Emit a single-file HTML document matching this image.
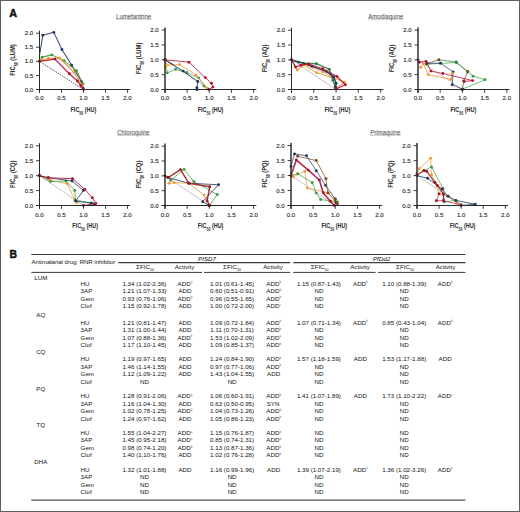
<!DOCTYPE html><html><head><meta charset="utf-8"><style>
html,body{margin:0;padding:0;background:#fff;}
body{width:520px;height:512px;overflow:hidden;position:relative;}
svg{position:absolute;left:0;top:0;}
text{font-family:"Liberation Sans",sans-serif;}
</style></head><body>
<svg width="520" height="512" viewBox="0 0 520 512">
<rect x="0" y="0" width="520" height="512" fill="#fff"/>
<rect x="0.5" y="0.5" width="519" height="511" fill="none" stroke="#5e5e5e" stroke-width="1"/>
<text x="9.2" y="16.9" font-size="10.8" font-weight="bold" fill="#111" stroke="#111" stroke-width="0.45">A</text>
<text x="9.6" y="258.2" font-size="10.4" font-weight="bold" fill="#111" stroke="#111" stroke-width="0.45">B</text>
<g transform="translate(133.60,18.50) scale(0.94,1)"><text x="0" y="0" font-size="6.4" fill="#444" text-anchor="middle">Lumefantrine</text></g>
<line x1="116.04" y1="19.20" x2="151.16" y2="19.20" stroke="#999" stroke-width="0.55"/>
<g transform="translate(385.80,18.50) scale(0.94,1)"><text x="0" y="0" font-size="6.4" fill="#444" text-anchor="middle">Amodiaquine</text></g>
<line x1="368.24" y1="19.20" x2="403.36" y2="19.20" stroke="#999" stroke-width="0.55"/>
<g transform="translate(133.40,134.60) scale(0.94,1)"><text x="0" y="0" font-size="6.4" fill="#444" text-anchor="middle">Chloroquine</text></g>
<line x1="117.18" y1="135.30" x2="149.62" y2="135.30" stroke="#999" stroke-width="0.55"/>
<g transform="translate(385.40,134.60) scale(0.94,1)"><text x="0" y="0" font-size="6.4" fill="#444" text-anchor="middle">Primaquine</text></g>
<line x1="370.19" y1="135.30" x2="400.61" y2="135.30" stroke="#999" stroke-width="0.55"/>
<line x1="39.50" y1="61.35" x2="83.50" y2="89.50" stroke="#333" stroke-width="0.9" stroke-dasharray="1.2,1"/>
<polyline points="39.50,55.72 42.80,35.17 53.80,32.36 61.94,49.53 71.62,65.29 81.30,81.34 83.06,88.09" fill="none" stroke="#223660" stroke-width="1.04" stroke-linejoin="round" stroke-opacity="0.9"/>
<circle cx="42.80" cy="35.17" r="1.45" fill="#223660"/>
<circle cx="53.80" cy="32.36" r="1.45" fill="#223660"/>
<circle cx="61.94" cy="49.53" r="1.45" fill="#223660"/>
<circle cx="71.62" cy="65.29" r="1.45" fill="#223660"/>
<circle cx="81.30" cy="81.34" r="1.45" fill="#223660"/>
<circle cx="83.06" cy="88.09" r="1.45" fill="#223660"/>
<polyline points="39.50,61.35 42.14,57.13 51.82,54.88 64.14,60.79 76.46,70.64 83.06,83.87" fill="none" stroke="#3c9a44" stroke-width="1.04" stroke-linejoin="round" stroke-opacity="0.9"/>
<circle cx="39.50" cy="61.35" r="1.45" fill="#3c9a44"/>
<circle cx="42.14" cy="57.13" r="1.45" fill="#3c9a44"/>
<circle cx="51.82" cy="54.88" r="1.45" fill="#3c9a44"/>
<circle cx="64.14" cy="60.79" r="1.45" fill="#3c9a44"/>
<circle cx="76.46" cy="70.64" r="1.45" fill="#3c9a44"/>
<circle cx="83.06" cy="83.87" r="1.45" fill="#3c9a44"/>
<polyline points="39.50,61.35 42.14,59.94 48.30,58.53 59.30,57.97 73.82,72.05 82.18,85.56" fill="none" stroke="#f09a36" stroke-width="1.28" stroke-linejoin="round" stroke-opacity="0.9"/>
<circle cx="39.50" cy="61.35" r="1.45" fill="#f09a36"/>
<circle cx="42.14" cy="59.94" r="1.45" fill="#f09a36"/>
<circle cx="48.30" cy="58.53" r="1.45" fill="#f09a36"/>
<circle cx="59.30" cy="57.97" r="1.45" fill="#f09a36"/>
<circle cx="73.82" cy="72.05" r="1.45" fill="#f09a36"/>
<circle cx="82.18" cy="85.56" r="1.45" fill="#f09a36"/>
<polyline points="39.50,61.35 54.90,59.10 69.42,73.74 77.34,81.06 80.86,85.56 83.50,89.50" fill="none" stroke="#b01235" stroke-width="1.28" stroke-linejoin="round" stroke-opacity="0.9"/>
<circle cx="39.50" cy="61.35" r="1.45" fill="#b01235"/>
<circle cx="54.90" cy="59.10" r="1.45" fill="#b01235"/>
<circle cx="69.42" cy="73.74" r="1.45" fill="#b01235"/>
<circle cx="77.34" cy="81.06" r="1.45" fill="#b01235"/>
<circle cx="80.86" cy="85.56" r="1.45" fill="#b01235"/>
<circle cx="83.50" cy="89.50" r="1.45" fill="#b01235"/>
<line x1="39.5" y1="30.60" x2="39.5" y2="92.80" stroke="#2a2a2a" stroke-width="1.0"/>
<line x1="36.10" y1="89.5" x2="130.20" y2="89.5" stroke="#2a2a2a" stroke-width="1"/>
<line x1="36.10" y1="89.50" x2="39.5" y2="89.50" stroke="#2a2a2a" stroke-width="0.9"/>
<line x1="39.50" y1="89.5" x2="39.50" y2="92.80" stroke="#2a2a2a" stroke-width="0.9"/>
<text x="33.20" y="91.60" font-size="6.05" fill="#2e2e2e" stroke="#2e2e2e" stroke-width="0.15" text-anchor="end">0.0</text>
<text x="39.50" y="100.40" font-size="6.05" fill="#2e2e2e" stroke="#2e2e2e" stroke-width="0.15" text-anchor="middle">0.0</text>
<line x1="36.10" y1="75.42" x2="39.5" y2="75.42" stroke="#2a2a2a" stroke-width="0.9"/>
<line x1="61.50" y1="89.5" x2="61.50" y2="92.80" stroke="#2a2a2a" stroke-width="0.9"/>
<text x="33.20" y="77.52" font-size="6.05" fill="#2e2e2e" stroke="#2e2e2e" stroke-width="0.15" text-anchor="end">0.5</text>
<text x="61.50" y="100.40" font-size="6.05" fill="#2e2e2e" stroke="#2e2e2e" stroke-width="0.15" text-anchor="middle">0.5</text>
<line x1="36.10" y1="61.35" x2="39.5" y2="61.35" stroke="#2a2a2a" stroke-width="0.9"/>
<line x1="83.50" y1="89.5" x2="83.50" y2="92.80" stroke="#2a2a2a" stroke-width="0.9"/>
<text x="33.20" y="63.45" font-size="6.05" fill="#2e2e2e" stroke="#2e2e2e" stroke-width="0.15" text-anchor="end">1.0</text>
<text x="83.50" y="100.40" font-size="6.05" fill="#2e2e2e" stroke="#2e2e2e" stroke-width="0.15" text-anchor="middle">1.0</text>
<line x1="36.10" y1="47.28" x2="39.5" y2="47.28" stroke="#2a2a2a" stroke-width="0.9"/>
<line x1="105.50" y1="89.5" x2="105.50" y2="92.80" stroke="#2a2a2a" stroke-width="0.9"/>
<text x="33.20" y="49.38" font-size="6.05" fill="#2e2e2e" stroke="#2e2e2e" stroke-width="0.15" text-anchor="end">1.5</text>
<text x="105.50" y="100.40" font-size="6.05" fill="#2e2e2e" stroke="#2e2e2e" stroke-width="0.15" text-anchor="middle">1.5</text>
<line x1="36.10" y1="33.20" x2="39.5" y2="33.20" stroke="#2a2a2a" stroke-width="0.9"/>
<line x1="127.50" y1="89.5" x2="127.50" y2="92.80" stroke="#2a2a2a" stroke-width="0.9"/>
<text x="33.20" y="35.30" font-size="6.05" fill="#2e2e2e" stroke="#2e2e2e" stroke-width="0.15" text-anchor="end">2.0</text>
<text x="127.50" y="100.40" font-size="6.05" fill="#2e2e2e" stroke="#2e2e2e" stroke-width="0.15" text-anchor="middle">2.0</text>
<g transform="translate(83.40,111.90) scale(0.72,1)"><text x="0" y="0" font-size="7.6" font-weight="bold" fill="#2a2a2a" text-anchor="middle">FIC<tspan font-size="4.8" dy="3.0">50</tspan><tspan dy="-3.0" dx="2.2">(HU)</tspan></text></g>
<g transform="translate(15.10,59.95) rotate(-90) scale(0.73,1)"><text x="0" y="0" font-size="8.0" font-weight="bold" fill="#2a2a2a" text-anchor="middle">FIC<tspan font-size="4.9" dy="3.1">50</tspan><tspan dy="-3.1" dx="2.2">(LUM)</tspan></text></g>
<line x1="165.00" y1="59.80" x2="209.30" y2="89.50" stroke="#a89a9a" stroke-width="0.6"/>
<polyline points="165.00,59.80 173.86,65.15" fill="none" stroke="#1a1a1a" stroke-width="0.96" stroke-linejoin="round" stroke-opacity="0.9"/>
<polyline points="165.00,59.80 167.22,72.87 175.63,69.30 186.71,72.57 198.67,77.92 203.98,85.94 207.08,88.91" fill="none" stroke="#3c9a44" stroke-width="0.80" stroke-linejoin="round" stroke-opacity="0.9"/>
<circle cx="165.00" cy="59.80" r="1.45" fill="#3c9a44"/>
<circle cx="167.22" cy="72.87" r="1.45" fill="#3c9a44"/>
<circle cx="175.63" cy="69.30" r="1.45" fill="#3c9a44"/>
<circle cx="186.71" cy="72.57" r="1.45" fill="#3c9a44"/>
<circle cx="198.67" cy="77.92" r="1.45" fill="#3c9a44"/>
<circle cx="203.98" cy="85.94" r="1.45" fill="#3c9a44"/>
<circle cx="207.08" cy="88.91" r="1.45" fill="#3c9a44"/>
<polyline points="165.00,59.80 167.22,65.15 179.62,64.55 196.01,74.95 207.53,88.31" fill="none" stroke="#f09a36" stroke-width="0.88" stroke-linejoin="round" stroke-opacity="0.9"/>
<circle cx="165.00" cy="59.80" r="1.45" fill="#f09a36"/>
<circle cx="167.22" cy="65.15" r="1.45" fill="#f09a36"/>
<circle cx="179.62" cy="64.55" r="1.45" fill="#f09a36"/>
<circle cx="196.01" cy="74.95" r="1.45" fill="#f09a36"/>
<circle cx="207.53" cy="88.31" r="1.45" fill="#f09a36"/>
<polyline points="165.00,59.80 165.00,67.52 167.22,65.15" fill="none" stroke="#f2c43a" stroke-width="0.80" stroke-linejoin="round" stroke-opacity="0.9"/>
<circle cx="165.00" cy="59.80" r="1.45" fill="#f2c43a"/>
<circle cx="165.00" cy="67.52" r="1.45" fill="#f2c43a"/>
<circle cx="167.22" cy="65.15" r="1.45" fill="#f2c43a"/>
<polyline points="165.00,59.80 183.16,71.09 197.78,81.48 196.90,87.72 196.90,89.50" fill="none" stroke="#223660" stroke-width="0.96" stroke-linejoin="round" stroke-opacity="0.9"/>
<circle cx="165.00" cy="59.80" r="1.45" fill="#223660"/>
<circle cx="183.16" cy="71.09" r="1.45" fill="#223660"/>
<circle cx="197.78" cy="81.48" r="1.45" fill="#223660"/>
<circle cx="196.90" cy="87.72" r="1.45" fill="#223660"/>
<circle cx="196.90" cy="89.50" r="1.45" fill="#223660"/>
<polyline points="165.00,59.80 188.92,62.18 205.31,77.62 211.51,83.26 212.84,87.12 208.86,89.50" fill="none" stroke="#b01235" stroke-width="0.88" stroke-linejoin="round" stroke-opacity="0.9"/>
<circle cx="165.00" cy="59.80" r="1.45" fill="#b01235"/>
<circle cx="188.92" cy="62.18" r="1.45" fill="#b01235"/>
<circle cx="205.31" cy="77.62" r="1.45" fill="#b01235"/>
<circle cx="211.51" cy="83.26" r="1.45" fill="#b01235"/>
<circle cx="212.84" cy="87.12" r="1.45" fill="#b01235"/>
<circle cx="208.86" cy="89.50" r="1.45" fill="#b01235"/>
<line x1="165.0" y1="27.50" x2="165.0" y2="92.80" stroke="#2a2a2a" stroke-width="1.45"/>
<line x1="161.60" y1="89.5" x2="256.30" y2="89.5" stroke="#2a2a2a" stroke-width="1"/>
<line x1="161.60" y1="89.50" x2="165.0" y2="89.50" stroke="#2a2a2a" stroke-width="0.9"/>
<line x1="165.00" y1="89.5" x2="165.00" y2="92.80" stroke="#2a2a2a" stroke-width="0.9"/>
<text x="158.70" y="91.60" font-size="6.05" fill="#2e2e2e" stroke="#2e2e2e" stroke-width="0.15" text-anchor="end">0.0</text>
<text x="165.00" y="100.40" font-size="6.05" fill="#2e2e2e" stroke="#2e2e2e" stroke-width="0.15" text-anchor="middle">0.0</text>
<line x1="161.60" y1="74.65" x2="165.0" y2="74.65" stroke="#2a2a2a" stroke-width="0.9"/>
<line x1="187.15" y1="89.5" x2="187.15" y2="92.80" stroke="#2a2a2a" stroke-width="0.9"/>
<text x="158.70" y="76.75" font-size="6.05" fill="#2e2e2e" stroke="#2e2e2e" stroke-width="0.15" text-anchor="end">0.5</text>
<text x="187.15" y="100.40" font-size="6.05" fill="#2e2e2e" stroke="#2e2e2e" stroke-width="0.15" text-anchor="middle">0.5</text>
<line x1="161.60" y1="59.80" x2="165.0" y2="59.80" stroke="#2a2a2a" stroke-width="0.9"/>
<line x1="209.30" y1="89.5" x2="209.30" y2="92.80" stroke="#2a2a2a" stroke-width="0.9"/>
<text x="158.70" y="61.90" font-size="6.05" fill="#2e2e2e" stroke="#2e2e2e" stroke-width="0.15" text-anchor="end">1.0</text>
<text x="209.30" y="100.40" font-size="6.05" fill="#2e2e2e" stroke="#2e2e2e" stroke-width="0.15" text-anchor="middle">1.0</text>
<line x1="161.60" y1="44.95" x2="165.0" y2="44.95" stroke="#2a2a2a" stroke-width="0.9"/>
<line x1="231.45" y1="89.5" x2="231.45" y2="92.80" stroke="#2a2a2a" stroke-width="0.9"/>
<text x="158.70" y="47.05" font-size="6.05" fill="#2e2e2e" stroke="#2e2e2e" stroke-width="0.15" text-anchor="end">1.5</text>
<text x="231.45" y="100.40" font-size="6.05" fill="#2e2e2e" stroke="#2e2e2e" stroke-width="0.15" text-anchor="middle">1.5</text>
<line x1="161.60" y1="30.10" x2="165.0" y2="30.10" stroke="#2a2a2a" stroke-width="0.9"/>
<line x1="253.60" y1="89.5" x2="253.60" y2="92.80" stroke="#2a2a2a" stroke-width="0.9"/>
<text x="158.70" y="32.20" font-size="6.05" fill="#2e2e2e" stroke="#2e2e2e" stroke-width="0.15" text-anchor="end">2.0</text>
<text x="253.60" y="100.40" font-size="6.05" fill="#2e2e2e" stroke="#2e2e2e" stroke-width="0.15" text-anchor="middle">2.0</text>
<g transform="translate(210.55,111.90) scale(0.72,1)"><text x="0" y="0" font-size="7.6" font-weight="bold" fill="#2a2a2a" text-anchor="middle">FIC<tspan font-size="4.8" dy="3.0">50</tspan><tspan dy="-3.0" dx="2.2">(HU)</tspan></text></g>
<g transform="translate(140.60,58.40) rotate(-90) scale(0.73,1)"><text x="0" y="0" font-size="8.0" font-weight="bold" fill="#2a2a2a" text-anchor="middle">FIC<tspan font-size="4.9" dy="3.1">50</tspan><tspan dy="-3.1" dx="2.2">(LUM)</tspan></text></g>
<line x1="291.50" y1="59.85" x2="336.05" y2="89.50" stroke="#a89a9a" stroke-width="0.6"/>
<polyline points="291.50,59.85 297.29,69.93 303.97,64.89 316.45,72.60 333.38,77.94 344.51,82.09 336.05,88.61" fill="none" stroke="#f09a36" stroke-width="1.04" stroke-linejoin="round" stroke-opacity="0.9"/>
<circle cx="291.50" cy="59.85" r="1.45" fill="#f09a36"/>
<circle cx="297.29" cy="69.93" r="1.45" fill="#f09a36"/>
<circle cx="303.97" cy="64.89" r="1.45" fill="#f09a36"/>
<circle cx="316.45" cy="72.60" r="1.45" fill="#f09a36"/>
<circle cx="333.38" cy="77.94" r="1.45" fill="#f09a36"/>
<circle cx="344.51" cy="82.09" r="1.45" fill="#f09a36"/>
<circle cx="336.05" cy="88.61" r="1.45" fill="#f09a36"/>
<polyline points="303.97,64.89 322.69,71.71 333.38,77.94" fill="none" stroke="#f09a36" stroke-width="0.72" stroke-linejoin="round" stroke-opacity="0.9"/>
<circle cx="303.97" cy="64.89" r="1.45" fill="#f09a36"/>
<circle cx="322.69" cy="71.71" r="1.45" fill="#f09a36"/>
<circle cx="333.38" cy="77.94" r="1.45" fill="#f09a36"/>
<polyline points="291.50,59.85 298.63,62.22 303.53,63.11 316.45,63.70 329.37,69.34 332.93,80.31 335.16,86.53" fill="none" stroke="#2e7d3a" stroke-width="1.44" stroke-linejoin="round" stroke-opacity="0.9"/>
<circle cx="291.50" cy="59.85" r="1.45" fill="#2e7d3a"/>
<circle cx="298.63" cy="62.22" r="1.45" fill="#2e7d3a"/>
<circle cx="303.53" cy="63.11" r="1.45" fill="#2e7d3a"/>
<circle cx="316.45" cy="63.70" r="1.45" fill="#2e7d3a"/>
<circle cx="329.37" cy="69.34" r="1.45" fill="#2e7d3a"/>
<circle cx="332.93" cy="80.31" r="1.45" fill="#2e7d3a"/>
<circle cx="335.16" cy="86.53" r="1.45" fill="#2e7d3a"/>
<polyline points="291.50,59.85 308.43,64.59 311.99,66.37 326.25,71.41 333.82,77.05 336.05,83.27 335.60,87.72" fill="none" stroke="#223660" stroke-width="1.44" stroke-linejoin="round" stroke-opacity="0.9"/>
<circle cx="291.50" cy="59.85" r="1.45" fill="#223660"/>
<circle cx="308.43" cy="64.59" r="1.45" fill="#223660"/>
<circle cx="311.99" cy="66.37" r="1.45" fill="#223660"/>
<circle cx="326.25" cy="71.41" r="1.45" fill="#223660"/>
<circle cx="333.82" cy="77.05" r="1.45" fill="#223660"/>
<circle cx="336.05" cy="83.27" r="1.45" fill="#223660"/>
<circle cx="335.60" cy="87.72" r="1.45" fill="#223660"/>
<polyline points="291.50,59.85 295.51,66.97 300.86,65.19 308.43,64.00 322.69,68.75 336.94,76.45 345.41,84.76 336.05,88.91" fill="none" stroke="#b01235" stroke-width="1.20" stroke-linejoin="round" stroke-opacity="0.9"/>
<circle cx="291.50" cy="59.85" r="1.45" fill="#b01235"/>
<circle cx="295.51" cy="66.97" r="1.45" fill="#b01235"/>
<circle cx="300.86" cy="65.19" r="1.45" fill="#b01235"/>
<circle cx="308.43" cy="64.00" r="1.45" fill="#b01235"/>
<circle cx="322.69" cy="68.75" r="1.45" fill="#b01235"/>
<circle cx="336.94" cy="76.45" r="1.45" fill="#b01235"/>
<circle cx="345.41" cy="84.76" r="1.45" fill="#b01235"/>
<circle cx="336.05" cy="88.91" r="1.45" fill="#b01235"/>
<line x1="291.5" y1="27.60" x2="291.5" y2="92.80" stroke="#2a2a2a" stroke-width="1.0"/>
<line x1="288.10" y1="89.5" x2="383.30" y2="89.5" stroke="#2a2a2a" stroke-width="1"/>
<line x1="288.10" y1="89.50" x2="291.5" y2="89.50" stroke="#2a2a2a" stroke-width="0.9"/>
<line x1="291.50" y1="89.5" x2="291.50" y2="92.80" stroke="#2a2a2a" stroke-width="0.9"/>
<text x="285.20" y="91.60" font-size="6.05" fill="#2e2e2e" stroke="#2e2e2e" stroke-width="0.15" text-anchor="end">0.0</text>
<text x="291.50" y="100.40" font-size="6.05" fill="#2e2e2e" stroke="#2e2e2e" stroke-width="0.15" text-anchor="middle">0.0</text>
<line x1="288.10" y1="74.67" x2="291.5" y2="74.67" stroke="#2a2a2a" stroke-width="0.9"/>
<line x1="313.77" y1="89.5" x2="313.77" y2="92.80" stroke="#2a2a2a" stroke-width="0.9"/>
<text x="285.20" y="76.77" font-size="6.05" fill="#2e2e2e" stroke="#2e2e2e" stroke-width="0.15" text-anchor="end">0.5</text>
<text x="313.77" y="100.40" font-size="6.05" fill="#2e2e2e" stroke="#2e2e2e" stroke-width="0.15" text-anchor="middle">0.5</text>
<line x1="288.10" y1="59.85" x2="291.5" y2="59.85" stroke="#2a2a2a" stroke-width="0.9"/>
<line x1="336.05" y1="89.5" x2="336.05" y2="92.80" stroke="#2a2a2a" stroke-width="0.9"/>
<text x="285.20" y="61.95" font-size="6.05" fill="#2e2e2e" stroke="#2e2e2e" stroke-width="0.15" text-anchor="end">1.0</text>
<text x="336.05" y="100.40" font-size="6.05" fill="#2e2e2e" stroke="#2e2e2e" stroke-width="0.15" text-anchor="middle">1.0</text>
<line x1="288.10" y1="45.03" x2="291.5" y2="45.03" stroke="#2a2a2a" stroke-width="0.9"/>
<line x1="358.32" y1="89.5" x2="358.32" y2="92.80" stroke="#2a2a2a" stroke-width="0.9"/>
<text x="285.20" y="47.13" font-size="6.05" fill="#2e2e2e" stroke="#2e2e2e" stroke-width="0.15" text-anchor="end">1.5</text>
<text x="358.32" y="100.40" font-size="6.05" fill="#2e2e2e" stroke="#2e2e2e" stroke-width="0.15" text-anchor="middle">1.5</text>
<line x1="288.10" y1="30.20" x2="291.5" y2="30.20" stroke="#2a2a2a" stroke-width="0.9"/>
<line x1="380.60" y1="89.5" x2="380.60" y2="92.80" stroke="#2a2a2a" stroke-width="0.9"/>
<text x="285.20" y="32.30" font-size="6.05" fill="#2e2e2e" stroke="#2e2e2e" stroke-width="0.15" text-anchor="end">2.0</text>
<text x="380.60" y="100.40" font-size="6.05" fill="#2e2e2e" stroke="#2e2e2e" stroke-width="0.15" text-anchor="middle">2.0</text>
<g transform="translate(337.35,111.90) scale(0.72,1)"><text x="0" y="0" font-size="7.6" font-weight="bold" fill="#2a2a2a" text-anchor="middle">FIC<tspan font-size="4.8" dy="3.0">50</tspan><tspan dy="-3.0" dx="2.2">(HU)</tspan></text></g>
<g transform="translate(267.10,58.45) rotate(-90) scale(0.73,1)"><text x="0" y="0" font-size="8.0" font-weight="bold" fill="#2a2a2a" text-anchor="middle">FIC<tspan font-size="4.9" dy="3.1">50</tspan><tspan dy="-3.1" dx="2.2">(AQ)</tspan></text></g>
<line x1="418.00" y1="59.85" x2="462.40" y2="89.50" stroke="#a89a9a" stroke-width="0.6"/>
<polyline points="426.88,64.30 440.20,63.41 456.18,62.52 467.73,71.71 473.06,76.16 485.04,79.72 462.40,89.20" fill="none" stroke="#3c9a44" stroke-width="0.80" stroke-linejoin="round" stroke-opacity="0.9"/>
<circle cx="426.88" cy="64.30" r="1.45" fill="#3c9a44"/>
<circle cx="440.20" cy="63.41" r="1.45" fill="#3c9a44"/>
<circle cx="456.18" cy="62.52" r="1.45" fill="#3c9a44"/>
<circle cx="467.73" cy="71.71" r="1.45" fill="#3c9a44"/>
<circle cx="473.06" cy="76.16" r="1.45" fill="#3c9a44"/>
<circle cx="485.04" cy="79.72" r="1.45" fill="#3c9a44"/>
<circle cx="462.40" cy="89.20" r="1.45" fill="#3c9a44"/>
<polyline points="438.87,59.85 456.18,61.93 467.73,71.71" fill="none" stroke="#2e7d3a" stroke-width="0.80" stroke-linejoin="round" stroke-opacity="0.9"/>
<circle cx="438.87" cy="59.85" r="1.45" fill="#2e7d3a"/>
<circle cx="456.18" cy="61.93" r="1.45" fill="#2e7d3a"/>
<circle cx="467.73" cy="71.71" r="1.45" fill="#2e7d3a"/>
<polyline points="426.88,63.41 438.87,59.85" fill="none" stroke="#7a4a22" stroke-width="0.80" stroke-linejoin="round" stroke-opacity="0.9"/>
<circle cx="426.88" cy="63.41" r="1.45" fill="#7a4a22"/>
<circle cx="438.87" cy="59.85" r="1.45" fill="#7a4a22"/>
<polyline points="467.73,71.71 463.73,80.90 462.40,89.50" fill="none" stroke="#7a4a22" stroke-width="0.80" stroke-linejoin="round" stroke-opacity="0.9"/>
<circle cx="467.73" cy="71.71" r="1.45" fill="#7a4a22"/>
<circle cx="463.73" cy="80.90" r="1.45" fill="#7a4a22"/>
<circle cx="462.40" cy="89.50" r="1.45" fill="#7a4a22"/>
<polyline points="426.88,63.41 440.64,63.11 453.08,72.01 452.19,84.76 462.40,89.20" fill="none" stroke="#223660" stroke-width="0.80" stroke-linejoin="round" stroke-opacity="0.9"/>
<circle cx="426.88" cy="63.41" r="1.45" fill="#223660"/>
<circle cx="440.64" cy="63.11" r="1.45" fill="#223660"/>
<circle cx="453.08" cy="72.01" r="1.45" fill="#223660"/>
<circle cx="452.19" cy="84.76" r="1.45" fill="#223660"/>
<circle cx="462.40" cy="89.20" r="1.45" fill="#223660"/>
<polyline points="420.66,67.26 423.33,63.70 428.21,74.67 450.86,79.42 452.19,73.19" fill="none" stroke="#f09a36" stroke-width="0.96" stroke-linejoin="round" stroke-opacity="0.9"/>
<circle cx="420.66" cy="67.26" r="1.45" fill="#f09a36"/>
<circle cx="423.33" cy="63.70" r="1.45" fill="#f09a36"/>
<circle cx="428.21" cy="74.67" r="1.45" fill="#f09a36"/>
<circle cx="450.86" cy="79.42" r="1.45" fill="#f09a36"/>
<circle cx="452.19" cy="73.19" r="1.45" fill="#f09a36"/>
<polyline points="418.00,59.85 419.33,62.22 425.99,61.33 430.88,71.12 442.86,73.49 472.61,80.61 464.18,81.49" fill="none" stroke="#b01235" stroke-width="0.88" stroke-linejoin="round" stroke-opacity="0.9"/>
<circle cx="418.00" cy="59.85" r="1.45" fill="#b01235"/>
<circle cx="419.33" cy="62.22" r="1.45" fill="#b01235"/>
<circle cx="425.99" cy="61.33" r="1.45" fill="#b01235"/>
<circle cx="430.88" cy="71.12" r="1.45" fill="#b01235"/>
<circle cx="442.86" cy="73.49" r="1.45" fill="#b01235"/>
<circle cx="472.61" cy="80.61" r="1.45" fill="#b01235"/>
<circle cx="464.18" cy="81.49" r="1.45" fill="#b01235"/>
<line x1="418.0" y1="27.60" x2="418.0" y2="92.80" stroke="#2a2a2a" stroke-width="1.45"/>
<line x1="414.60" y1="89.5" x2="509.50" y2="89.5" stroke="#2a2a2a" stroke-width="1"/>
<line x1="414.60" y1="89.50" x2="418.0" y2="89.50" stroke="#2a2a2a" stroke-width="0.9"/>
<line x1="418.00" y1="89.5" x2="418.00" y2="92.80" stroke="#2a2a2a" stroke-width="0.9"/>
<text x="411.70" y="91.60" font-size="6.05" fill="#2e2e2e" stroke="#2e2e2e" stroke-width="0.15" text-anchor="end">0.0</text>
<text x="418.00" y="100.40" font-size="6.05" fill="#2e2e2e" stroke="#2e2e2e" stroke-width="0.15" text-anchor="middle">0.0</text>
<line x1="414.60" y1="74.67" x2="418.0" y2="74.67" stroke="#2a2a2a" stroke-width="0.9"/>
<line x1="440.20" y1="89.5" x2="440.20" y2="92.80" stroke="#2a2a2a" stroke-width="0.9"/>
<text x="411.70" y="76.77" font-size="6.05" fill="#2e2e2e" stroke="#2e2e2e" stroke-width="0.15" text-anchor="end">0.5</text>
<text x="440.20" y="100.40" font-size="6.05" fill="#2e2e2e" stroke="#2e2e2e" stroke-width="0.15" text-anchor="middle">0.5</text>
<line x1="414.60" y1="59.85" x2="418.0" y2="59.85" stroke="#2a2a2a" stroke-width="0.9"/>
<line x1="462.40" y1="89.5" x2="462.40" y2="92.80" stroke="#2a2a2a" stroke-width="0.9"/>
<text x="411.70" y="61.95" font-size="6.05" fill="#2e2e2e" stroke="#2e2e2e" stroke-width="0.15" text-anchor="end">1.0</text>
<text x="462.40" y="100.40" font-size="6.05" fill="#2e2e2e" stroke="#2e2e2e" stroke-width="0.15" text-anchor="middle">1.0</text>
<line x1="414.60" y1="45.03" x2="418.0" y2="45.03" stroke="#2a2a2a" stroke-width="0.9"/>
<line x1="484.60" y1="89.5" x2="484.60" y2="92.80" stroke="#2a2a2a" stroke-width="0.9"/>
<text x="411.70" y="47.13" font-size="6.05" fill="#2e2e2e" stroke="#2e2e2e" stroke-width="0.15" text-anchor="end">1.5</text>
<text x="484.60" y="100.40" font-size="6.05" fill="#2e2e2e" stroke="#2e2e2e" stroke-width="0.15" text-anchor="middle">1.5</text>
<line x1="414.60" y1="30.20" x2="418.0" y2="30.20" stroke="#2a2a2a" stroke-width="0.9"/>
<line x1="506.80" y1="89.5" x2="506.80" y2="92.80" stroke="#2a2a2a" stroke-width="0.9"/>
<text x="411.70" y="32.30" font-size="6.05" fill="#2e2e2e" stroke="#2e2e2e" stroke-width="0.15" text-anchor="end">2.0</text>
<text x="506.80" y="100.40" font-size="6.05" fill="#2e2e2e" stroke="#2e2e2e" stroke-width="0.15" text-anchor="middle">2.0</text>
<g transform="translate(463.35,111.90) scale(0.72,1)"><text x="0" y="0" font-size="7.6" font-weight="bold" fill="#2a2a2a" text-anchor="middle">FIC<tspan font-size="4.8" dy="3.0">50</tspan><tspan dy="-3.0" dx="2.2">(HU)</tspan></text></g>
<g transform="translate(393.60,58.45) rotate(-90) scale(0.73,1)"><text x="0" y="0" font-size="8.0" font-weight="bold" fill="#2a2a2a" text-anchor="middle">FIC<tspan font-size="4.9" dy="3.1">50</tspan><tspan dy="-3.1" dx="2.2">(AQ)</tspan></text></g>
<line x1="39.50" y1="175.65" x2="83.50" y2="205.50" stroke="#a89a9a" stroke-width="0.6"/>
<polyline points="39.50,175.65 50.50,180.13 67.22,183.71 74.70,199.53 76.90,202.51" fill="none" stroke="#f09a36" stroke-width="0.88" stroke-linejoin="round" stroke-opacity="0.9"/>
<circle cx="39.50" cy="175.65" r="1.45" fill="#f09a36"/>
<circle cx="50.50" cy="180.13" r="1.45" fill="#f09a36"/>
<circle cx="67.22" cy="183.71" r="1.45" fill="#f09a36"/>
<circle cx="74.70" cy="199.53" r="1.45" fill="#f09a36"/>
<circle cx="76.90" cy="202.51" r="1.45" fill="#f09a36"/>
<polyline points="39.50,175.65 50.50,181.62 65.90,181.02 74.70,190.57 75.58,200.13 92.30,203.11" fill="none" stroke="#3c9a44" stroke-width="0.80" stroke-linejoin="round" stroke-opacity="0.9"/>
<circle cx="39.50" cy="175.65" r="1.45" fill="#3c9a44"/>
<circle cx="50.50" cy="181.62" r="1.45" fill="#3c9a44"/>
<circle cx="65.90" cy="181.02" r="1.45" fill="#3c9a44"/>
<circle cx="74.70" cy="190.57" r="1.45" fill="#3c9a44"/>
<circle cx="75.58" cy="200.13" r="1.45" fill="#3c9a44"/>
<circle cx="92.30" cy="203.11" r="1.45" fill="#3c9a44"/>
<polyline points="39.50,175.65 48.30,177.74 72.06,181.02 83.50,190.57 75.58,201.02 90.98,203.11 94.50,204.31" fill="none" stroke="#223660" stroke-width="0.88" stroke-linejoin="round" stroke-opacity="0.9"/>
<circle cx="39.50" cy="175.65" r="1.45" fill="#223660"/>
<circle cx="48.30" cy="177.74" r="1.45" fill="#223660"/>
<circle cx="72.06" cy="181.02" r="1.45" fill="#223660"/>
<circle cx="83.50" cy="190.57" r="1.45" fill="#223660"/>
<circle cx="75.58" cy="201.02" r="1.45" fill="#223660"/>
<circle cx="90.98" cy="203.11" r="1.45" fill="#223660"/>
<circle cx="94.50" cy="204.31" r="1.45" fill="#223660"/>
<polyline points="39.50,175.65 48.30,177.74 72.50,178.63 84.82,189.38 92.30,197.74 95.82,203.41 83.50,205.50" fill="none" stroke="#b01235" stroke-width="0.96" stroke-linejoin="round" stroke-opacity="0.9"/>
<circle cx="39.50" cy="175.65" r="1.45" fill="#b01235"/>
<circle cx="48.30" cy="177.74" r="1.45" fill="#b01235"/>
<circle cx="72.50" cy="178.63" r="1.45" fill="#b01235"/>
<circle cx="84.82" cy="189.38" r="1.45" fill="#b01235"/>
<circle cx="92.30" cy="197.74" r="1.45" fill="#b01235"/>
<circle cx="95.82" cy="203.41" r="1.45" fill="#b01235"/>
<circle cx="83.50" cy="205.50" r="1.45" fill="#b01235"/>
<line x1="39.5" y1="143.20" x2="39.5" y2="208.80" stroke="#2a2a2a" stroke-width="1.0"/>
<line x1="36.10" y1="205.5" x2="130.20" y2="205.5" stroke="#2a2a2a" stroke-width="1"/>
<line x1="36.10" y1="205.50" x2="39.5" y2="205.50" stroke="#2a2a2a" stroke-width="0.9"/>
<line x1="39.50" y1="205.5" x2="39.50" y2="208.80" stroke="#2a2a2a" stroke-width="0.9"/>
<text x="33.20" y="207.60" font-size="6.05" fill="#2e2e2e" stroke="#2e2e2e" stroke-width="0.15" text-anchor="end">0.0</text>
<text x="39.50" y="216.90" font-size="6.05" fill="#2e2e2e" stroke="#2e2e2e" stroke-width="0.15" text-anchor="middle">0.0</text>
<line x1="36.10" y1="190.57" x2="39.5" y2="190.57" stroke="#2a2a2a" stroke-width="0.9"/>
<line x1="61.50" y1="205.5" x2="61.50" y2="208.80" stroke="#2a2a2a" stroke-width="0.9"/>
<text x="33.20" y="192.67" font-size="6.05" fill="#2e2e2e" stroke="#2e2e2e" stroke-width="0.15" text-anchor="end">0.5</text>
<text x="61.50" y="216.90" font-size="6.05" fill="#2e2e2e" stroke="#2e2e2e" stroke-width="0.15" text-anchor="middle">0.5</text>
<line x1="36.10" y1="175.65" x2="39.5" y2="175.65" stroke="#2a2a2a" stroke-width="0.9"/>
<line x1="83.50" y1="205.5" x2="83.50" y2="208.80" stroke="#2a2a2a" stroke-width="0.9"/>
<text x="33.20" y="177.75" font-size="6.05" fill="#2e2e2e" stroke="#2e2e2e" stroke-width="0.15" text-anchor="end">1.0</text>
<text x="83.50" y="216.90" font-size="6.05" fill="#2e2e2e" stroke="#2e2e2e" stroke-width="0.15" text-anchor="middle">1.0</text>
<line x1="36.10" y1="160.72" x2="39.5" y2="160.72" stroke="#2a2a2a" stroke-width="0.9"/>
<line x1="105.50" y1="205.5" x2="105.50" y2="208.80" stroke="#2a2a2a" stroke-width="0.9"/>
<text x="33.20" y="162.82" font-size="6.05" fill="#2e2e2e" stroke="#2e2e2e" stroke-width="0.15" text-anchor="end">1.5</text>
<text x="105.50" y="216.90" font-size="6.05" fill="#2e2e2e" stroke="#2e2e2e" stroke-width="0.15" text-anchor="middle">1.5</text>
<line x1="36.10" y1="145.80" x2="39.5" y2="145.80" stroke="#2a2a2a" stroke-width="0.9"/>
<line x1="127.50" y1="205.5" x2="127.50" y2="208.80" stroke="#2a2a2a" stroke-width="0.9"/>
<text x="33.20" y="147.90" font-size="6.05" fill="#2e2e2e" stroke="#2e2e2e" stroke-width="0.15" text-anchor="end">2.0</text>
<text x="127.50" y="216.90" font-size="6.05" fill="#2e2e2e" stroke="#2e2e2e" stroke-width="0.15" text-anchor="middle">2.0</text>
<g transform="translate(85.15,228.30) scale(0.72,1)"><text x="0" y="0" font-size="7.6" font-weight="bold" fill="#2a2a2a" text-anchor="middle">FIC<tspan font-size="4.8" dy="3.0">50</tspan><tspan dy="-3.0" dx="2.2">(HU)</tspan></text></g>
<g transform="translate(15.10,174.25) rotate(-90) scale(0.73,1)"><text x="0" y="0" font-size="8.0" font-weight="bold" fill="#2a2a2a" text-anchor="middle">FIC<tspan font-size="4.9" dy="3.1">50</tspan><tspan dy="-3.1" dx="2.2">(CQ)</tspan></text></g>
<line x1="165.00" y1="175.85" x2="209.30" y2="205.50" stroke="#a89a9a" stroke-width="0.6"/>
<polyline points="168.99,183.26 174.30,182.67 188.92,183.26 203.98,195.12 209.30,205.50" fill="none" stroke="#f09a36" stroke-width="0.88" stroke-linejoin="round" stroke-opacity="0.9"/>
<circle cx="168.99" cy="183.26" r="1.45" fill="#f09a36"/>
<circle cx="174.30" cy="182.67" r="1.45" fill="#f09a36"/>
<circle cx="188.92" cy="183.26" r="1.45" fill="#f09a36"/>
<circle cx="203.98" cy="195.12" r="1.45" fill="#f09a36"/>
<circle cx="209.30" cy="205.50" r="1.45" fill="#f09a36"/>
<polyline points="168.10,177.63 170.76,180.30 184.05,169.33 193.79,181.48 217.27,194.53 209.30,205.50" fill="none" stroke="#3c9a44" stroke-width="0.80" stroke-linejoin="round" stroke-opacity="0.9"/>
<circle cx="168.10" cy="177.63" r="1.45" fill="#3c9a44"/>
<circle cx="170.76" cy="180.30" r="1.45" fill="#3c9a44"/>
<circle cx="184.05" cy="169.33" r="1.45" fill="#3c9a44"/>
<circle cx="193.79" cy="181.48" r="1.45" fill="#3c9a44"/>
<circle cx="217.27" cy="194.53" r="1.45" fill="#3c9a44"/>
<circle cx="209.30" cy="205.50" r="1.45" fill="#3c9a44"/>
<polyline points="168.10,177.63 188.92,183.26 218.60,184.75 202.66,201.65 209.30,205.50" fill="none" stroke="#223660" stroke-width="0.88" stroke-linejoin="round" stroke-opacity="0.9"/>
<circle cx="168.10" cy="177.63" r="1.45" fill="#223660"/>
<circle cx="188.92" cy="183.26" r="1.45" fill="#223660"/>
<circle cx="218.60" cy="184.75" r="1.45" fill="#223660"/>
<circle cx="202.66" cy="201.65" r="1.45" fill="#223660"/>
<circle cx="209.30" cy="205.50" r="1.45" fill="#223660"/>
<polyline points="165.00,175.85 168.10,177.63 180.50,169.62 188.92,183.26 209.74,186.82 207.08,200.76 209.74,205.50" fill="none" stroke="#9b1b1f" stroke-width="1.44" stroke-linejoin="round" stroke-opacity="0.9"/>
<circle cx="165.00" cy="175.85" r="1.45" fill="#9b1b1f"/>
<circle cx="168.10" cy="177.63" r="1.45" fill="#9b1b1f"/>
<circle cx="180.50" cy="169.62" r="1.45" fill="#9b1b1f"/>
<circle cx="188.92" cy="183.26" r="1.45" fill="#9b1b1f"/>
<circle cx="209.74" cy="186.82" r="1.45" fill="#9b1b1f"/>
<circle cx="207.08" cy="200.76" r="1.45" fill="#9b1b1f"/>
<circle cx="209.74" cy="205.50" r="1.45" fill="#9b1b1f"/>
<line x1="165.0" y1="143.60" x2="165.0" y2="208.80" stroke="#2a2a2a" stroke-width="1.45"/>
<line x1="161.60" y1="205.5" x2="256.30" y2="205.5" stroke="#2a2a2a" stroke-width="1"/>
<line x1="161.60" y1="205.50" x2="165.0" y2="205.50" stroke="#2a2a2a" stroke-width="0.9"/>
<line x1="165.00" y1="205.5" x2="165.00" y2="208.80" stroke="#2a2a2a" stroke-width="0.9"/>
<text x="158.70" y="207.60" font-size="6.05" fill="#2e2e2e" stroke="#2e2e2e" stroke-width="0.15" text-anchor="end">0.0</text>
<text x="165.00" y="216.90" font-size="6.05" fill="#2e2e2e" stroke="#2e2e2e" stroke-width="0.15" text-anchor="middle">0.0</text>
<line x1="161.60" y1="190.68" x2="165.0" y2="190.68" stroke="#2a2a2a" stroke-width="0.9"/>
<line x1="187.15" y1="205.5" x2="187.15" y2="208.80" stroke="#2a2a2a" stroke-width="0.9"/>
<text x="158.70" y="192.78" font-size="6.05" fill="#2e2e2e" stroke="#2e2e2e" stroke-width="0.15" text-anchor="end">0.5</text>
<text x="187.15" y="216.90" font-size="6.05" fill="#2e2e2e" stroke="#2e2e2e" stroke-width="0.15" text-anchor="middle">0.5</text>
<line x1="161.60" y1="175.85" x2="165.0" y2="175.85" stroke="#2a2a2a" stroke-width="0.9"/>
<line x1="209.30" y1="205.5" x2="209.30" y2="208.80" stroke="#2a2a2a" stroke-width="0.9"/>
<text x="158.70" y="177.95" font-size="6.05" fill="#2e2e2e" stroke="#2e2e2e" stroke-width="0.15" text-anchor="end">1.0</text>
<text x="209.30" y="216.90" font-size="6.05" fill="#2e2e2e" stroke="#2e2e2e" stroke-width="0.15" text-anchor="middle">1.0</text>
<line x1="161.60" y1="161.03" x2="165.0" y2="161.03" stroke="#2a2a2a" stroke-width="0.9"/>
<line x1="231.45" y1="205.5" x2="231.45" y2="208.80" stroke="#2a2a2a" stroke-width="0.9"/>
<text x="158.70" y="163.12" font-size="6.05" fill="#2e2e2e" stroke="#2e2e2e" stroke-width="0.15" text-anchor="end">1.5</text>
<text x="231.45" y="216.90" font-size="6.05" fill="#2e2e2e" stroke="#2e2e2e" stroke-width="0.15" text-anchor="middle">1.5</text>
<line x1="161.60" y1="146.20" x2="165.0" y2="146.20" stroke="#2a2a2a" stroke-width="0.9"/>
<line x1="253.60" y1="205.5" x2="253.60" y2="208.80" stroke="#2a2a2a" stroke-width="0.9"/>
<text x="158.70" y="148.30" font-size="6.05" fill="#2e2e2e" stroke="#2e2e2e" stroke-width="0.15" text-anchor="end">2.0</text>
<text x="253.60" y="216.90" font-size="6.05" fill="#2e2e2e" stroke="#2e2e2e" stroke-width="0.15" text-anchor="middle">2.0</text>
<g transform="translate(210.55,228.30) scale(0.72,1)"><text x="0" y="0" font-size="7.6" font-weight="bold" fill="#2a2a2a" text-anchor="middle">FIC<tspan font-size="4.8" dy="3.0">50</tspan><tspan dy="-3.0" dx="2.2">(HU)</tspan></text></g>
<g transform="translate(140.60,174.45) rotate(-90) scale(0.73,1)"><text x="0" y="0" font-size="8.0" font-weight="bold" fill="#2a2a2a" text-anchor="middle">FIC<tspan font-size="4.9" dy="3.1">50</tspan><tspan dy="-3.1" dx="2.2">(CQ)</tspan></text></g>
<line x1="291.00" y1="175.50" x2="335.25" y2="205.50" stroke="#a89a9a" stroke-width="0.6"/>
<polyline points="293.21,176.70 304.72,171.30 307.37,188.10 328.61,192.90 335.25,202.50" fill="none" stroke="#f09a36" stroke-width="0.80" stroke-linejoin="round" stroke-opacity="0.9"/>
<circle cx="293.21" cy="176.70" r="1.45" fill="#f09a36"/>
<circle cx="304.72" cy="171.30" r="1.45" fill="#f09a36"/>
<circle cx="307.37" cy="188.10" r="1.45" fill="#f09a36"/>
<circle cx="328.61" cy="192.90" r="1.45" fill="#f09a36"/>
<circle cx="335.25" cy="202.50" r="1.45" fill="#f09a36"/>
<polyline points="291.00,175.50 297.64,173.70 312.24,182.70 316.22,192.90 320.65,199.50 337.46,201.90" fill="none" stroke="#3c9a44" stroke-width="0.80" stroke-linejoin="round" stroke-opacity="0.9"/>
<circle cx="291.00" cy="175.50" r="1.45" fill="#3c9a44"/>
<circle cx="297.64" cy="173.70" r="1.45" fill="#3c9a44"/>
<circle cx="312.24" cy="182.70" r="1.45" fill="#3c9a44"/>
<circle cx="316.22" cy="192.90" r="1.45" fill="#3c9a44"/>
<circle cx="320.65" cy="199.50" r="1.45" fill="#3c9a44"/>
<circle cx="337.46" cy="201.90" r="1.45" fill="#3c9a44"/>
<polyline points="291.00,166.50 294.54,153.90 306.49,155.70 316.22,170.70 325.51,185.40 335.25,198.90 336.13,203.10" fill="none" stroke="#223660" stroke-width="0.80" stroke-linejoin="round" stroke-opacity="0.9"/>
<circle cx="291.00" cy="166.50" r="1.45" fill="#223660"/>
<circle cx="294.54" cy="153.90" r="1.45" fill="#223660"/>
<circle cx="306.49" cy="155.70" r="1.45" fill="#223660"/>
<circle cx="316.22" cy="170.70" r="1.45" fill="#223660"/>
<circle cx="325.51" cy="185.40" r="1.45" fill="#223660"/>
<circle cx="335.25" cy="198.90" r="1.45" fill="#223660"/>
<circle cx="336.13" cy="203.10" r="1.45" fill="#223660"/>
<polyline points="297.64,156.30 316.22,160.50 325.96,178.80 327.73,192.90 335.25,199.80 337.46,204.00" fill="none" stroke="#7a4a22" stroke-width="0.80" stroke-linejoin="round" stroke-opacity="0.9"/>
<circle cx="297.64" cy="156.30" r="1.45" fill="#7a4a22"/>
<circle cx="316.22" cy="160.50" r="1.45" fill="#7a4a22"/>
<circle cx="325.96" cy="178.80" r="1.45" fill="#7a4a22"/>
<circle cx="327.73" cy="192.90" r="1.45" fill="#7a4a22"/>
<circle cx="335.25" cy="199.80" r="1.45" fill="#7a4a22"/>
<circle cx="337.46" cy="204.00" r="1.45" fill="#7a4a22"/>
<polyline points="291.00,175.50 296.31,159.90 308.26,170.10 319.32,180.00 323.30,192.90 330.38,201.30 334.37,205.50" fill="none" stroke="#b01235" stroke-width="1.60" stroke-linejoin="round" stroke-opacity="0.9"/>
<circle cx="291.00" cy="175.50" r="1.45" fill="#b01235"/>
<circle cx="296.31" cy="159.90" r="1.45" fill="#b01235"/>
<circle cx="308.26" cy="170.10" r="1.45" fill="#b01235"/>
<circle cx="319.32" cy="180.00" r="1.45" fill="#b01235"/>
<circle cx="323.30" cy="192.90" r="1.45" fill="#b01235"/>
<circle cx="330.38" cy="201.30" r="1.45" fill="#b01235"/>
<circle cx="334.37" cy="205.50" r="1.45" fill="#b01235"/>
<line x1="291.0" y1="142.90" x2="291.0" y2="208.80" stroke="#2a2a2a" stroke-width="1.45"/>
<line x1="287.60" y1="205.5" x2="382.20" y2="205.5" stroke="#2a2a2a" stroke-width="1"/>
<line x1="287.60" y1="205.50" x2="291.0" y2="205.50" stroke="#2a2a2a" stroke-width="0.9"/>
<line x1="291.00" y1="205.5" x2="291.00" y2="208.80" stroke="#2a2a2a" stroke-width="0.9"/>
<text x="284.70" y="207.60" font-size="6.05" fill="#2e2e2e" stroke="#2e2e2e" stroke-width="0.15" text-anchor="end">0.0</text>
<text x="291.00" y="216.90" font-size="6.05" fill="#2e2e2e" stroke="#2e2e2e" stroke-width="0.15" text-anchor="middle">0.0</text>
<line x1="287.60" y1="190.50" x2="291.0" y2="190.50" stroke="#2a2a2a" stroke-width="0.9"/>
<line x1="313.12" y1="205.5" x2="313.12" y2="208.80" stroke="#2a2a2a" stroke-width="0.9"/>
<text x="284.70" y="192.60" font-size="6.05" fill="#2e2e2e" stroke="#2e2e2e" stroke-width="0.15" text-anchor="end">0.5</text>
<text x="313.12" y="216.90" font-size="6.05" fill="#2e2e2e" stroke="#2e2e2e" stroke-width="0.15" text-anchor="middle">0.5</text>
<line x1="287.60" y1="175.50" x2="291.0" y2="175.50" stroke="#2a2a2a" stroke-width="0.9"/>
<line x1="335.25" y1="205.5" x2="335.25" y2="208.80" stroke="#2a2a2a" stroke-width="0.9"/>
<text x="284.70" y="177.60" font-size="6.05" fill="#2e2e2e" stroke="#2e2e2e" stroke-width="0.15" text-anchor="end">1.0</text>
<text x="335.25" y="216.90" font-size="6.05" fill="#2e2e2e" stroke="#2e2e2e" stroke-width="0.15" text-anchor="middle">1.0</text>
<line x1="287.60" y1="160.50" x2="291.0" y2="160.50" stroke="#2a2a2a" stroke-width="0.9"/>
<line x1="357.38" y1="205.5" x2="357.38" y2="208.80" stroke="#2a2a2a" stroke-width="0.9"/>
<text x="284.70" y="162.60" font-size="6.05" fill="#2e2e2e" stroke="#2e2e2e" stroke-width="0.15" text-anchor="end">1.5</text>
<text x="357.38" y="216.90" font-size="6.05" fill="#2e2e2e" stroke="#2e2e2e" stroke-width="0.15" text-anchor="middle">1.5</text>
<line x1="287.60" y1="145.50" x2="291.0" y2="145.50" stroke="#2a2a2a" stroke-width="0.9"/>
<line x1="379.50" y1="205.5" x2="379.50" y2="208.80" stroke="#2a2a2a" stroke-width="0.9"/>
<text x="284.70" y="147.60" font-size="6.05" fill="#2e2e2e" stroke="#2e2e2e" stroke-width="0.15" text-anchor="end">2.0</text>
<text x="379.50" y="216.90" font-size="6.05" fill="#2e2e2e" stroke="#2e2e2e" stroke-width="0.15" text-anchor="middle">2.0</text>
<g transform="translate(334.30,228.30) scale(0.72,1)"><text x="0" y="0" font-size="7.6" font-weight="bold" fill="#2a2a2a" text-anchor="middle">FIC<tspan font-size="4.8" dy="3.0">50</tspan><tspan dy="-3.0" dx="2.2">(HU)</tspan></text></g>
<g transform="translate(266.60,174.10) rotate(-90) scale(0.73,1)"><text x="0" y="0" font-size="8.0" font-weight="bold" fill="#2a2a2a" text-anchor="middle">FIC<tspan font-size="4.9" dy="3.1">50</tspan><tspan dy="-3.1" dx="2.2">(PQ)</tspan></text></g>
<line x1="417.00" y1="175.60" x2="461.15" y2="205.50" stroke="#a89a9a" stroke-width="0.6"/>
<polyline points="417.00,173.21 419.21,168.72 430.69,158.26 431.57,174.70 435.54,183.07 439.07,193.84 448.79,196.53 456.74,203.11" fill="none" stroke="#f09a36" stroke-width="0.80" stroke-linejoin="round" stroke-opacity="0.9"/>
<circle cx="417.00" cy="173.21" r="1.45" fill="#f09a36"/>
<circle cx="419.21" cy="168.72" r="1.45" fill="#f09a36"/>
<circle cx="430.69" cy="158.26" r="1.45" fill="#f09a36"/>
<circle cx="431.57" cy="174.70" r="1.45" fill="#f09a36"/>
<circle cx="435.54" cy="183.07" r="1.45" fill="#f09a36"/>
<circle cx="439.07" cy="193.84" r="1.45" fill="#f09a36"/>
<circle cx="448.79" cy="196.53" r="1.45" fill="#f09a36"/>
<circle cx="456.74" cy="203.11" r="1.45" fill="#f09a36"/>
<polyline points="424.06,170.52 431.57,166.93 443.05,188.76 443.49,194.14 444.37,201.91 455.85,200.42 461.15,204.90" fill="none" stroke="#3c9a44" stroke-width="0.80" stroke-linejoin="round" stroke-opacity="0.9"/>
<circle cx="424.06" cy="170.52" r="1.45" fill="#3c9a44"/>
<circle cx="431.57" cy="166.93" r="1.45" fill="#3c9a44"/>
<circle cx="443.05" cy="188.76" r="1.45" fill="#3c9a44"/>
<circle cx="443.49" cy="194.14" r="1.45" fill="#3c9a44"/>
<circle cx="444.37" cy="201.91" r="1.45" fill="#3c9a44"/>
<circle cx="455.85" cy="200.42" r="1.45" fill="#3c9a44"/>
<circle cx="461.15" cy="204.90" r="1.45" fill="#3c9a44"/>
<polyline points="417.00,175.60 427.60,178.29 442.17,189.06 447.90,196.23 455.85,200.42 475.28,204.30 461.15,205.50" fill="none" stroke="#223660" stroke-width="0.88" stroke-linejoin="round" stroke-opacity="0.9"/>
<circle cx="417.00" cy="175.60" r="1.45" fill="#223660"/>
<circle cx="427.60" cy="178.29" r="1.45" fill="#223660"/>
<circle cx="442.17" cy="189.06" r="1.45" fill="#223660"/>
<circle cx="447.90" cy="196.23" r="1.45" fill="#223660"/>
<circle cx="455.85" cy="200.42" r="1.45" fill="#223660"/>
<circle cx="475.28" cy="204.30" r="1.45" fill="#223660"/>
<circle cx="461.15" cy="205.50" r="1.45" fill="#223660"/>
<polyline points="417.00,175.00 424.06,170.52 426.71,171.41 434.66,182.18 437.31,185.47 443.49,194.14 443.49,200.72" fill="none" stroke="#9b1b1f" stroke-width="1.20" stroke-linejoin="round" stroke-opacity="0.9"/>
<circle cx="417.00" cy="175.00" r="1.45" fill="#9b1b1f"/>
<circle cx="424.06" cy="170.52" r="1.45" fill="#9b1b1f"/>
<circle cx="426.71" cy="171.41" r="1.45" fill="#9b1b1f"/>
<circle cx="434.66" cy="182.18" r="1.45" fill="#9b1b1f"/>
<circle cx="437.31" cy="185.47" r="1.45" fill="#9b1b1f"/>
<circle cx="443.49" cy="194.14" r="1.45" fill="#9b1b1f"/>
<circle cx="443.49" cy="200.72" r="1.45" fill="#9b1b1f"/>
<polyline points="439.07,193.84 436.43,200.72 443.49,200.72 461.15,204.90" fill="none" stroke="#b01235" stroke-width="0.72" stroke-linejoin="round" stroke-opacity="0.9"/>
<circle cx="439.07" cy="193.84" r="1.45" fill="#b01235"/>
<circle cx="436.43" cy="200.72" r="1.45" fill="#b01235"/>
<circle cx="443.49" cy="200.72" r="1.45" fill="#b01235"/>
<circle cx="461.15" cy="204.90" r="1.45" fill="#b01235"/>
<line x1="417.0" y1="143.10" x2="417.0" y2="208.80" stroke="#2a2a2a" stroke-width="1.45"/>
<line x1="413.60" y1="205.5" x2="508.00" y2="205.5" stroke="#2a2a2a" stroke-width="1"/>
<line x1="413.60" y1="205.50" x2="417.0" y2="205.50" stroke="#2a2a2a" stroke-width="0.9"/>
<line x1="417.00" y1="205.5" x2="417.00" y2="208.80" stroke="#2a2a2a" stroke-width="0.9"/>
<text x="410.70" y="207.60" font-size="6.05" fill="#2e2e2e" stroke="#2e2e2e" stroke-width="0.15" text-anchor="end">0.0</text>
<text x="417.00" y="216.90" font-size="6.05" fill="#2e2e2e" stroke="#2e2e2e" stroke-width="0.15" text-anchor="middle">0.0</text>
<line x1="413.60" y1="190.55" x2="417.0" y2="190.55" stroke="#2a2a2a" stroke-width="0.9"/>
<line x1="439.07" y1="205.5" x2="439.07" y2="208.80" stroke="#2a2a2a" stroke-width="0.9"/>
<text x="410.70" y="192.65" font-size="6.05" fill="#2e2e2e" stroke="#2e2e2e" stroke-width="0.15" text-anchor="end">0.5</text>
<text x="439.07" y="216.90" font-size="6.05" fill="#2e2e2e" stroke="#2e2e2e" stroke-width="0.15" text-anchor="middle">0.5</text>
<line x1="413.60" y1="175.60" x2="417.0" y2="175.60" stroke="#2a2a2a" stroke-width="0.9"/>
<line x1="461.15" y1="205.5" x2="461.15" y2="208.80" stroke="#2a2a2a" stroke-width="0.9"/>
<text x="410.70" y="177.70" font-size="6.05" fill="#2e2e2e" stroke="#2e2e2e" stroke-width="0.15" text-anchor="end">1.0</text>
<text x="461.15" y="216.90" font-size="6.05" fill="#2e2e2e" stroke="#2e2e2e" stroke-width="0.15" text-anchor="middle">1.0</text>
<line x1="413.60" y1="160.65" x2="417.0" y2="160.65" stroke="#2a2a2a" stroke-width="0.9"/>
<line x1="483.23" y1="205.5" x2="483.23" y2="208.80" stroke="#2a2a2a" stroke-width="0.9"/>
<text x="410.70" y="162.75" font-size="6.05" fill="#2e2e2e" stroke="#2e2e2e" stroke-width="0.15" text-anchor="end">1.5</text>
<text x="483.23" y="216.90" font-size="6.05" fill="#2e2e2e" stroke="#2e2e2e" stroke-width="0.15" text-anchor="middle">1.5</text>
<line x1="413.60" y1="145.70" x2="417.0" y2="145.70" stroke="#2a2a2a" stroke-width="0.9"/>
<line x1="505.30" y1="205.5" x2="505.30" y2="208.80" stroke="#2a2a2a" stroke-width="0.9"/>
<text x="410.70" y="147.80" font-size="6.05" fill="#2e2e2e" stroke="#2e2e2e" stroke-width="0.15" text-anchor="end">2.0</text>
<text x="505.30" y="216.90" font-size="6.05" fill="#2e2e2e" stroke="#2e2e2e" stroke-width="0.15" text-anchor="middle">2.0</text>
<g transform="translate(462.55,228.30) scale(0.72,1)"><text x="0" y="0" font-size="7.6" font-weight="bold" fill="#2a2a2a" text-anchor="middle">FIC<tspan font-size="4.8" dy="3.0">50</tspan><tspan dy="-3.0" dx="2.2">(HU)</tspan></text></g>
<g transform="translate(392.60,174.20) rotate(-90) scale(0.73,1)"><text x="0" y="0" font-size="8.0" font-weight="bold" fill="#2a2a2a" text-anchor="middle">FIC<tspan font-size="4.9" dy="3.1">50</tspan><tspan dy="-3.1" dx="2.2">(PQ)</tspan></text></g>
<line x1="31.3" y1="254.5" x2="465.4" y2="254.5" stroke="#3c3c3c" stroke-width="1.1"/>
<line x1="118.3" y1="262.7" x2="290.2" y2="262.7" stroke="#3c3c3c" stroke-width="1.2"/>
<line x1="293.2" y1="262.7" x2="465.4" y2="262.7" stroke="#3c3c3c" stroke-width="1.2"/>
<line x1="31.3" y1="272.4" x2="202.0" y2="272.4" stroke="#3c3c3c" stroke-width="1"/>
<line x1="204.0" y1="272.4" x2="290.2" y2="272.4" stroke="#3c3c3c" stroke-width="1"/>
<line x1="293.2" y1="272.4" x2="375.6" y2="272.4" stroke="#3c3c3c" stroke-width="1"/>
<line x1="377.9" y1="272.4" x2="465.4" y2="272.4" stroke="#3c3c3c" stroke-width="1"/>
<line x1="31.3" y1="500.0" x2="465.4" y2="500.0" stroke="#505050" stroke-width="1.25"/>
<text x="31.60" y="264.00" font-size="6.0" fill="#111" text-anchor="start" >Antimalarial drug</text>
<text x="79.70" y="264.00" font-size="6.0" fill="#111" text-anchor="start" >RNR inhibitor</text>
<text x="207.00" y="260.90" font-size="6.2" fill="#111" text-anchor="middle" font-style="italic">PfSD7</text>
<text x="381.60" y="260.90" font-size="6.2" fill="#111" text-anchor="middle" font-style="italic">PfDd2</text>
<text x="145.00" y="269.20" font-size="6.2" fill="#111" text-anchor="middle" >&#931;FIC<tspan font-size="3.6" dy="1.6">50</tspan></text>
<text x="232.00" y="269.20" font-size="6.2" fill="#111" text-anchor="middle" >&#931;FIC<tspan font-size="3.6" dy="1.6">50</tspan></text>
<text x="319.70" y="269.20" font-size="6.2" fill="#111" text-anchor="middle" >&#931;FIC<tspan font-size="3.6" dy="1.6">50</tspan></text>
<text x="405.00" y="269.20" font-size="6.2" fill="#111" text-anchor="middle" >&#931;FIC<tspan font-size="3.6" dy="1.6">50</tspan></text>
<text x="184.50" y="269.20" font-size="6.2" fill="#111" text-anchor="middle" >Activity</text>
<text x="273.00" y="269.20" font-size="6.2" fill="#111" text-anchor="middle" >Activity</text>
<text x="360.00" y="269.20" font-size="6.2" fill="#111" text-anchor="middle" >Activity</text>
<text x="445.50" y="269.20" font-size="6.2" fill="#111" text-anchor="middle" >Activity</text>
<text x="40.80" y="279.80" font-size="6.2" fill="#111" text-anchor="middle" >LUM</text>
<text x="80.60" y="285.50" font-size="6.2" fill="#111" text-anchor="start" >HU</text>
<text x="144.40" y="285.50" font-size="6.2" fill="#111" text-anchor="middle" >1.34 (1.02-2.36)</text>
<text x="177.60" y="285.50" font-size="6.2" fill="#111" text-anchor="start" >ADD<tspan font-size="3.0" dy="-2.3" fill="#666">a</tspan></text>
<text x="232.10" y="285.50" font-size="6.2" fill="#111" text-anchor="middle" >1.01 (0.61-1.45)</text>
<text x="266.30" y="285.50" font-size="6.2" fill="#111" text-anchor="start" >ADD<tspan font-size="3.0" dy="-2.3" fill="#666">b</tspan></text>
<text x="318.90" y="285.50" font-size="6.2" fill="#111" text-anchor="middle" >1.15 (0.87-1.43)</text>
<text x="353.00" y="285.50" font-size="6.2" fill="#111" text-anchor="start" >ADD<tspan font-size="3.0" dy="-2.3" fill="#666">b</tspan></text>
<text x="404.20" y="285.50" font-size="6.2" fill="#111" text-anchor="middle" >1.10 (0.88-1.39)</text>
<text x="437.80" y="285.50" font-size="6.2" fill="#111" text-anchor="start" >ADD<tspan font-size="3.0" dy="-2.3" fill="#666">b</tspan></text>
<text x="80.60" y="293.00" font-size="6.2" fill="#111" text-anchor="start" >3AP</text>
<text x="144.40" y="293.00" font-size="6.2" fill="#111" text-anchor="middle" >1.21 (1.07-1.33)</text>
<text x="178.40" y="293.00" font-size="6.2" fill="#111" text-anchor="start" >ADD</text>
<text x="232.10" y="293.00" font-size="6.2" fill="#111" text-anchor="middle" >0.60 (0.51-0.91)</text>
<text x="266.30" y="293.00" font-size="6.2" fill="#111" text-anchor="start" >ADD<tspan font-size="3.0" dy="-2.3" fill="#666">b</tspan></text>
<text x="318.90" y="293.00" font-size="6.2" fill="#111" text-anchor="middle" >ND</text>
<text x="404.20" y="293.00" font-size="6.2" fill="#111" text-anchor="middle" >ND</text>
<text x="80.60" y="300.50" font-size="6.2" fill="#111" text-anchor="start" >Gem</text>
<text x="144.40" y="300.50" font-size="6.2" fill="#111" text-anchor="middle" >0.93 (0.76-1.06)</text>
<text x="177.60" y="300.50" font-size="6.2" fill="#111" text-anchor="start" >ADD<tspan font-size="3.0" dy="-2.3" fill="#666">b</tspan></text>
<text x="232.10" y="300.50" font-size="6.2" fill="#111" text-anchor="middle" >0.96 (0.55-1.65)</text>
<text x="266.30" y="300.50" font-size="6.2" fill="#111" text-anchor="start" >ADD<tspan font-size="3.0" dy="-2.3" fill="#666">b</tspan></text>
<text x="318.90" y="300.50" font-size="6.2" fill="#111" text-anchor="middle" >ND</text>
<text x="404.20" y="300.50" font-size="6.2" fill="#111" text-anchor="middle" >ND</text>
<text x="80.60" y="308.00" font-size="6.2" fill="#111" text-anchor="start" >Clof</text>
<text x="144.40" y="308.00" font-size="6.2" fill="#111" text-anchor="middle" >1.15 (0.92-1.78)</text>
<text x="178.40" y="308.00" font-size="6.2" fill="#111" text-anchor="start" >ADD</text>
<text x="232.10" y="308.00" font-size="6.2" fill="#111" text-anchor="middle" >1.00 (0.72-2.00)</text>
<text x="266.30" y="308.00" font-size="6.2" fill="#111" text-anchor="start" >ADD<tspan font-size="3.0" dy="-2.3" fill="#666">c</tspan></text>
<text x="318.90" y="308.00" font-size="6.2" fill="#111" text-anchor="middle" >ND</text>
<text x="404.20" y="308.00" font-size="6.2" fill="#111" text-anchor="middle" >ND</text>
<text x="40.80" y="317.00" font-size="6.2" fill="#111" text-anchor="middle" >AQ</text>
<text x="80.60" y="324.60" font-size="6.2" fill="#111" text-anchor="start" >HU</text>
<text x="144.40" y="324.60" font-size="6.2" fill="#111" text-anchor="middle" >1.21 (0.81-1.47)</text>
<text x="178.40" y="324.60" font-size="6.2" fill="#111" text-anchor="start" >ADD</text>
<text x="232.10" y="324.60" font-size="6.2" fill="#111" text-anchor="middle" >1.09 (0.72-1.84)</text>
<text x="266.30" y="324.60" font-size="6.2" fill="#111" text-anchor="start" >ADD<tspan font-size="3.0" dy="-2.3" fill="#666">b</tspan></text>
<text x="318.90" y="324.60" font-size="6.2" fill="#111" text-anchor="middle" >1.07 (0.71-1.34)</text>
<text x="353.00" y="324.60" font-size="6.2" fill="#111" text-anchor="start" >ADD<tspan font-size="3.0" dy="-2.3" fill="#666">b</tspan></text>
<text x="404.20" y="324.60" font-size="6.2" fill="#111" text-anchor="middle" >0.85 (0.43-1.04)</text>
<text x="437.80" y="324.60" font-size="6.2" fill="#111" text-anchor="start" >ADD<tspan font-size="3.0" dy="-2.3" fill="#666">b</tspan></text>
<text x="80.60" y="332.00" font-size="6.2" fill="#111" text-anchor="start" >3AP</text>
<text x="144.40" y="332.00" font-size="6.2" fill="#111" text-anchor="middle" >1.31 (1.00-1.44)</text>
<text x="178.40" y="332.00" font-size="6.2" fill="#111" text-anchor="start" >ADD</text>
<text x="232.10" y="332.00" font-size="6.2" fill="#111" text-anchor="middle" >1.11 (0.70-1.31)</text>
<text x="266.30" y="332.00" font-size="6.2" fill="#111" text-anchor="start" >ADD<tspan font-size="3.0" dy="-2.3" fill="#666">b</tspan></text>
<text x="318.90" y="332.00" font-size="6.2" fill="#111" text-anchor="middle" >ND</text>
<text x="404.20" y="332.00" font-size="6.2" fill="#111" text-anchor="middle" >ND</text>
<text x="80.60" y="339.60" font-size="6.2" fill="#111" text-anchor="start" >Gem</text>
<text x="144.40" y="339.60" font-size="6.2" fill="#111" text-anchor="middle" >1.07 (0.88-1.36)</text>
<text x="177.60" y="339.60" font-size="6.2" fill="#111" text-anchor="start" >ADD<tspan font-size="3.0" dy="-2.3" fill="#666">b</tspan></text>
<text x="232.10" y="339.60" font-size="6.2" fill="#111" text-anchor="middle" >1.53 (1.02-2.09)</text>
<text x="266.30" y="339.60" font-size="6.2" fill="#111" text-anchor="start" >ADD<tspan font-size="3.0" dy="-2.3" fill="#666">a</tspan></text>
<text x="318.90" y="339.60" font-size="6.2" fill="#111" text-anchor="middle" >ND</text>
<text x="404.20" y="339.60" font-size="6.2" fill="#111" text-anchor="middle" >ND</text>
<text x="80.60" y="347.00" font-size="6.2" fill="#111" text-anchor="start" >Clof</text>
<text x="144.40" y="347.00" font-size="6.2" fill="#111" text-anchor="middle" >1.17 (1.10-1.45)</text>
<text x="178.40" y="347.00" font-size="6.2" fill="#111" text-anchor="start" >ADD</text>
<text x="232.10" y="347.00" font-size="6.2" fill="#111" text-anchor="middle" >1.09 (0.85-1.37)</text>
<text x="266.30" y="347.00" font-size="6.2" fill="#111" text-anchor="start" >ADD<tspan font-size="3.0" dy="-2.3" fill="#666">b</tspan></text>
<text x="318.90" y="347.00" font-size="6.2" fill="#111" text-anchor="middle" >ND</text>
<text x="404.20" y="347.00" font-size="6.2" fill="#111" text-anchor="middle" >ND</text>
<text x="40.80" y="353.70" font-size="6.2" fill="#111" text-anchor="middle" >CQ</text>
<text x="80.60" y="361.30" font-size="6.2" fill="#111" text-anchor="start" >HU</text>
<text x="144.40" y="361.30" font-size="6.2" fill="#111" text-anchor="middle" >1.19 (0.97-1.65)</text>
<text x="178.40" y="361.30" font-size="6.2" fill="#111" text-anchor="start" >ADD</text>
<text x="232.10" y="361.30" font-size="6.2" fill="#111" text-anchor="middle" >1.24 (0.84-1.90)</text>
<text x="266.30" y="361.30" font-size="6.2" fill="#111" text-anchor="start" >ADD<tspan font-size="3.0" dy="-2.3" fill="#666">b</tspan></text>
<text x="318.90" y="361.30" font-size="6.2" fill="#111" text-anchor="middle" >1.57 (1.18-1.59)</text>
<text x="353.80" y="361.30" font-size="6.2" fill="#111" text-anchor="start" >ADD</text>
<text x="404.20" y="361.30" font-size="6.2" fill="#111" text-anchor="middle" >1.53 (1.17-1.88)</text>
<text x="438.60" y="361.30" font-size="6.2" fill="#111" text-anchor="start" >ADD</text>
<text x="80.60" y="368.70" font-size="6.2" fill="#111" text-anchor="start" >3AP</text>
<text x="144.40" y="368.70" font-size="6.2" fill="#111" text-anchor="middle" >1.46 (1.14-1.55)</text>
<text x="178.40" y="368.70" font-size="6.2" fill="#111" text-anchor="start" >ADD</text>
<text x="232.10" y="368.70" font-size="6.2" fill="#111" text-anchor="middle" >0.97 (0.77-1.06)</text>
<text x="266.30" y="368.70" font-size="6.2" fill="#111" text-anchor="start" >ADD<tspan font-size="3.0" dy="-2.3" fill="#666">b</tspan></text>
<text x="318.90" y="368.70" font-size="6.2" fill="#111" text-anchor="middle" >ND</text>
<text x="404.20" y="368.70" font-size="6.2" fill="#111" text-anchor="middle" >ND</text>
<text x="80.60" y="376.30" font-size="6.2" fill="#111" text-anchor="start" >Gem</text>
<text x="144.40" y="376.30" font-size="6.2" fill="#111" text-anchor="middle" >1.12 (1.09-1.22)</text>
<text x="178.40" y="376.30" font-size="6.2" fill="#111" text-anchor="start" >ADD</text>
<text x="232.10" y="376.30" font-size="6.2" fill="#111" text-anchor="middle" >1.43 (1.04-1.55)</text>
<text x="267.10" y="376.30" font-size="6.2" fill="#111" text-anchor="start" >ADD</text>
<text x="318.90" y="376.30" font-size="6.2" fill="#111" text-anchor="middle" >ND</text>
<text x="404.20" y="376.30" font-size="6.2" fill="#111" text-anchor="middle" >ND</text>
<text x="80.60" y="383.70" font-size="6.2" fill="#111" text-anchor="start" >Clof</text>
<text x="144.40" y="383.70" font-size="6.2" fill="#111" text-anchor="middle" >ND</text>
<text x="232.10" y="383.70" font-size="6.2" fill="#111" text-anchor="middle" >ND</text>
<text x="318.90" y="383.70" font-size="6.2" fill="#111" text-anchor="middle" >ND</text>
<text x="404.20" y="383.70" font-size="6.2" fill="#111" text-anchor="middle" >ND</text>
<text x="40.80" y="390.50" font-size="6.2" fill="#111" text-anchor="middle" >PQ</text>
<text x="80.60" y="398.10" font-size="6.2" fill="#111" text-anchor="start" >HU</text>
<text x="144.40" y="398.10" font-size="6.2" fill="#111" text-anchor="middle" >1.28 (0.91-2.06)</text>
<text x="177.60" y="398.10" font-size="6.2" fill="#111" text-anchor="start" >ADD<tspan font-size="3.0" dy="-2.3" fill="#666">a</tspan></text>
<text x="232.10" y="398.10" font-size="6.2" fill="#111" text-anchor="middle" >1.06 (0.60-1.91)</text>
<text x="266.30" y="398.10" font-size="6.2" fill="#111" text-anchor="start" >ADD<tspan font-size="3.0" dy="-2.3" fill="#666">b</tspan></text>
<text x="318.90" y="398.10" font-size="6.2" fill="#111" text-anchor="middle" >1.41 (1.07-1.89)</text>
<text x="353.80" y="398.10" font-size="6.2" fill="#111" text-anchor="start" >ADD</text>
<text x="404.20" y="398.10" font-size="6.2" fill="#111" text-anchor="middle" >1.73 (1.10-2.22)</text>
<text x="437.80" y="398.10" font-size="6.2" fill="#111" text-anchor="start" >ADD<tspan font-size="3.0" dy="-2.3" fill="#666">a</tspan></text>
<text x="80.60" y="405.50" font-size="6.2" fill="#111" text-anchor="start" >3AP</text>
<text x="144.40" y="405.50" font-size="6.2" fill="#111" text-anchor="middle" >1.16 (1.04-1.30)</text>
<text x="178.40" y="405.50" font-size="6.2" fill="#111" text-anchor="start" >ADD</text>
<text x="232.10" y="405.50" font-size="6.2" fill="#111" text-anchor="middle" >0.63 (0.50-0.95)</text>
<text x="266.70" y="405.50" font-size="6.2" fill="#111" text-anchor="start" >SYN</text>
<text x="318.90" y="405.50" font-size="6.2" fill="#111" text-anchor="middle" >ND</text>
<text x="404.20" y="405.50" font-size="6.2" fill="#111" text-anchor="middle" >ND</text>
<text x="80.60" y="413.10" font-size="6.2" fill="#111" text-anchor="start" >Gem</text>
<text x="144.40" y="413.10" font-size="6.2" fill="#111" text-anchor="middle" >1.02 (0.78-1.25)</text>
<text x="177.60" y="413.10" font-size="6.2" fill="#111" text-anchor="start" >ADD<tspan font-size="3.0" dy="-2.3" fill="#666">b</tspan></text>
<text x="232.10" y="413.10" font-size="6.2" fill="#111" text-anchor="middle" >1.04 (0.73-1.26)</text>
<text x="266.30" y="413.10" font-size="6.2" fill="#111" text-anchor="start" >ADD<tspan font-size="3.0" dy="-2.3" fill="#666">b</tspan></text>
<text x="318.90" y="413.10" font-size="6.2" fill="#111" text-anchor="middle" >ND</text>
<text x="404.20" y="413.10" font-size="6.2" fill="#111" text-anchor="middle" >ND</text>
<text x="80.60" y="420.50" font-size="6.2" fill="#111" text-anchor="start" >Clof</text>
<text x="144.40" y="420.50" font-size="6.2" fill="#111" text-anchor="middle" >1.24 (0.97-1.62)</text>
<text x="178.40" y="420.50" font-size="6.2" fill="#111" text-anchor="start" >ADD</text>
<text x="232.10" y="420.50" font-size="6.2" fill="#111" text-anchor="middle" >1.05 (0.86-1.23)</text>
<text x="266.30" y="420.50" font-size="6.2" fill="#111" text-anchor="start" >ADD<tspan font-size="3.0" dy="-2.3" fill="#666">b</tspan></text>
<text x="318.90" y="420.50" font-size="6.2" fill="#111" text-anchor="middle" >ND</text>
<text x="404.20" y="420.50" font-size="6.2" fill="#111" text-anchor="middle" >ND</text>
<text x="40.80" y="427.30" font-size="6.2" fill="#111" text-anchor="middle" >TQ</text>
<text x="80.60" y="434.90" font-size="6.2" fill="#111" text-anchor="start" >HU</text>
<text x="144.40" y="434.90" font-size="6.2" fill="#111" text-anchor="middle" >1.55 (1.04-2.27)</text>
<text x="177.60" y="434.90" font-size="6.2" fill="#111" text-anchor="start" >ADD<tspan font-size="3.0" dy="-2.3" fill="#666">a</tspan></text>
<text x="232.10" y="434.90" font-size="6.2" fill="#111" text-anchor="middle" >1.15 (0.76-1.87)</text>
<text x="266.30" y="434.90" font-size="6.2" fill="#111" text-anchor="start" >ADD<tspan font-size="3.0" dy="-2.3" fill="#666">b</tspan></text>
<text x="318.90" y="434.90" font-size="6.2" fill="#111" text-anchor="middle" >ND</text>
<text x="404.20" y="434.90" font-size="6.2" fill="#111" text-anchor="middle" >ND</text>
<text x="80.60" y="442.30" font-size="6.2" fill="#111" text-anchor="start" >3AP</text>
<text x="144.40" y="442.30" font-size="6.2" fill="#111" text-anchor="middle" >1.45 (0.95-2.18)</text>
<text x="177.60" y="442.30" font-size="6.2" fill="#111" text-anchor="start" >ADD<tspan font-size="3.0" dy="-2.3" fill="#666">a</tspan></text>
<text x="232.10" y="442.30" font-size="6.2" fill="#111" text-anchor="middle" >0.85 (0.74-1.31)</text>
<text x="266.30" y="442.30" font-size="6.2" fill="#111" text-anchor="start" >ADD<tspan font-size="3.0" dy="-2.3" fill="#666">b</tspan></text>
<text x="318.90" y="442.30" font-size="6.2" fill="#111" text-anchor="middle" >ND</text>
<text x="404.20" y="442.30" font-size="6.2" fill="#111" text-anchor="middle" >ND</text>
<text x="80.60" y="449.90" font-size="6.2" fill="#111" text-anchor="start" >Gem</text>
<text x="144.40" y="449.90" font-size="6.2" fill="#111" text-anchor="middle" >0.98 (0.74-1.20)</text>
<text x="177.60" y="449.90" font-size="6.2" fill="#111" text-anchor="start" >ADD<tspan font-size="3.0" dy="-2.3" fill="#666">b</tspan></text>
<text x="232.10" y="449.90" font-size="6.2" fill="#111" text-anchor="middle" >1.13 (0.87-1.36)</text>
<text x="266.30" y="449.90" font-size="6.2" fill="#111" text-anchor="start" >ADD<tspan font-size="3.0" dy="-2.3" fill="#666">b</tspan></text>
<text x="318.90" y="449.90" font-size="6.2" fill="#111" text-anchor="middle" >ND</text>
<text x="404.20" y="449.90" font-size="6.2" fill="#111" text-anchor="middle" >ND</text>
<text x="80.60" y="457.30" font-size="6.2" fill="#111" text-anchor="start" >Clof</text>
<text x="144.40" y="457.30" font-size="6.2" fill="#111" text-anchor="middle" >1.40 (1.10-1.76)</text>
<text x="178.40" y="457.30" font-size="6.2" fill="#111" text-anchor="start" >ADD</text>
<text x="232.10" y="457.30" font-size="6.2" fill="#111" text-anchor="middle" >1.02 (0.76-1.28)</text>
<text x="266.30" y="457.30" font-size="6.2" fill="#111" text-anchor="start" >ADD<tspan font-size="3.0" dy="-2.3" fill="#666">b</tspan></text>
<text x="318.90" y="457.30" font-size="6.2" fill="#111" text-anchor="middle" >ND</text>
<text x="404.20" y="457.30" font-size="6.2" fill="#111" text-anchor="middle" >ND</text>
<text x="40.80" y="464.10" font-size="6.2" fill="#111" text-anchor="middle" >DHA</text>
<text x="80.60" y="471.70" font-size="6.2" fill="#111" text-anchor="start" >HU</text>
<text x="144.40" y="471.70" font-size="6.2" fill="#111" text-anchor="middle" >1.32 (1.01-1.88)</text>
<text x="178.40" y="471.70" font-size="6.2" fill="#111" text-anchor="start" >ADD</text>
<text x="232.10" y="471.70" font-size="6.2" fill="#111" text-anchor="middle" >1.16 (0.99-1.96)</text>
<text x="267.10" y="471.70" font-size="6.2" fill="#111" text-anchor="start" >ADD</text>
<text x="318.90" y="471.70" font-size="6.2" fill="#111" text-anchor="middle" >1.39 (1.07-2.19)</text>
<text x="353.00" y="471.70" font-size="6.2" fill="#111" text-anchor="start" >ADD<tspan font-size="3.0" dy="-2.3" fill="#666">a</tspan></text>
<text x="404.20" y="471.70" font-size="6.2" fill="#111" text-anchor="middle" >1.36 (1.02-3.26)</text>
<text x="437.80" y="471.70" font-size="6.2" fill="#111" text-anchor="start" >ADD<tspan font-size="3.0" dy="-2.3" fill="#666">a</tspan></text>
<text x="80.60" y="479.10" font-size="6.2" fill="#111" text-anchor="start" >3AP</text>
<text x="144.40" y="479.10" font-size="6.2" fill="#111" text-anchor="middle" >ND</text>
<text x="232.10" y="479.10" font-size="6.2" fill="#111" text-anchor="middle" >ND</text>
<text x="318.90" y="479.10" font-size="6.2" fill="#111" text-anchor="middle" >ND</text>
<text x="404.20" y="479.10" font-size="6.2" fill="#111" text-anchor="middle" >ND</text>
<text x="80.60" y="486.70" font-size="6.2" fill="#111" text-anchor="start" >Gem</text>
<text x="144.40" y="486.70" font-size="6.2" fill="#111" text-anchor="middle" >ND</text>
<text x="232.10" y="486.70" font-size="6.2" fill="#111" text-anchor="middle" >ND</text>
<text x="318.90" y="486.70" font-size="6.2" fill="#111" text-anchor="middle" >ND</text>
<text x="404.20" y="486.70" font-size="6.2" fill="#111" text-anchor="middle" >ND</text>
<text x="80.60" y="494.10" font-size="6.2" fill="#111" text-anchor="start" >Clof</text>
<text x="144.40" y="494.10" font-size="6.2" fill="#111" text-anchor="middle" >ND</text>
<text x="232.10" y="494.10" font-size="6.2" fill="#111" text-anchor="middle" >ND</text>
<text x="318.90" y="494.10" font-size="6.2" fill="#111" text-anchor="middle" >ND</text>
<text x="404.20" y="494.10" font-size="6.2" fill="#111" text-anchor="middle" >ND</text>
</svg></body></html>
